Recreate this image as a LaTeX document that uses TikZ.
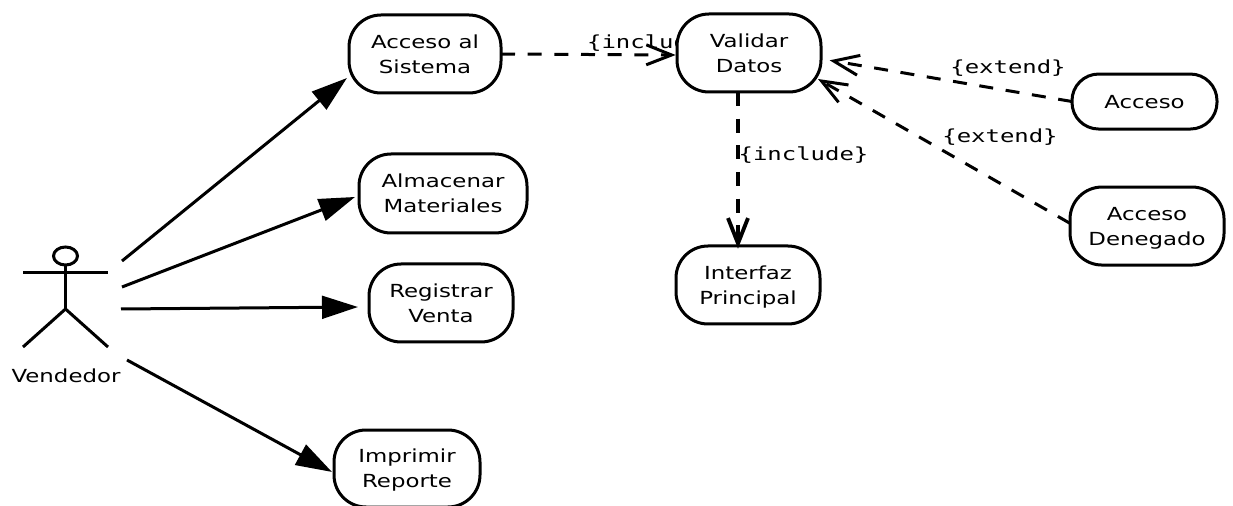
\documentclass[tikz,border=0pt]{standalone}
\usepackage{fontspec}
\setmainfont[FakeStretch=1.27]{DejaVu Sans}
\newfontfamily\labelfont[FakeStretch=1.33]{DejaVu Sans Mono}
\usetikzlibrary{positioning, arrows.meta, shapes.geometric}
\tikzset{
    caso/.style={draw, line width=2.25pt, fill=white, rounded corners=24pt, align=center, inner sep=0pt, outer sep=0pt, text depth=0pt,
        font=\fontsize{13.5}{18.75}\selectfont, minimum width=108pt, minimum height=58.5pt},
    etiqueta/.style={inner sep=0pt, font=\labelfont\fontsize{13.5}{18.75}\selectfont},
    asocia/.style={line width=2.25pt, -{Triangle[length=27pt,width=17pt]}},
    depende/.style={line width=2.25pt, dash pattern=on 10.5pt off 9.5pt, -{Straight Barb[length=19pt,width=15pt]}},
    figura/.style={line width=2.25pt}
}
\begin{document}
\begin{tikzpicture}[x=0.75pt, y=-0.75pt]
        \useasboundingbox (0,0) rectangle (1233,506);

        % actor
        \node[figura, draw, ellipse, minimum width=18pt, minimum height=13.5pt, inner sep=0pt] (cabeza) at (65.5,256) {};
        \coordinate (hombro) at (65.5,273);
        \coordinate (cadera) at (65.5,309);
        \draw[figura] (cabeza) -- (cadera);
        \draw[figura] (23,273) -- (hombro) -- (108,273);
        \draw[figura] (23,347) -- (cadera) -- (108,347);
        \node[inner sep=0pt, font=\fontsize{13.5}{18.75}\selectfont] (vendedor) at (66,376) {Vendedor};

        % casos de uso
        \node[caso, minimum width=114pt] (sistema) at (425,54) {Acceso al\\Sistema};
        \node[caso, minimum width=126pt, minimum height=59.25pt] (almacenar) [below = 45.75pt of sistema, xshift=13.5pt] {Almacenar\\Materiales};
        \node[caso] (registrar) [below = 23.25pt of almacenar, xshift=-1.5pt] {Registrar\\Venta};
        \node[caso, minimum width=109.5pt, minimum height=57.75pt] (imprimir) [below = 66pt of registrar, xshift=-25.5pt] {Imprimir\\Reporte};

        % queda tapada en parte por el caso siguiente
        \node[etiqueta] (incluye1) at (652,43) {\{include\}};

        \node[caso] (validar) [right = 132pt of sistema, yshift=0.75pt] {Validar\\Datos};
        \node[caso] (interfaz) [below = 115.5pt of validar, xshift=-0.75pt] {Interfaz\\Principal};
        \node[caso, minimum width=108.75pt, minimum height=41.25pt, rounded corners=20pt] (acceso) [right = 188.25pt of validar, yshift=-36.4pt] {Acceso};
        \node[caso, minimum width=115.5pt] (denegado) [below = 43.5pt of acceso, xshift=1.9pt] {Acceso\\Denegado};

        \node[etiqueta] (incluye2) at (803.5,155) {\{include\}};
        \node[etiqueta] (extiende1) at (1008,68) {\{extend\}};
        \node[etiqueta] (extiende2) at (1000,137) {\{extend\}};

        % extremos libres
        \coordinate (salida1) at (122,261);
        \coordinate (salida2) at (122,287);
        \coordinate (salida3) at (121,309);
        \coordinate (salida4) at (127,360);

        \draw[asocia] (salida1) -- ([xshift=-1.5pt,yshift=-18pt]sistema.west);
        \draw[asocia] (salida2) -- ([xshift=-3pt,yshift=-2.6pt]almacenar.west);
        \draw[asocia] (salida3) -- ([xshift=-8.25pt,yshift=-3pt]registrar.west);
        \draw[asocia] (salida4) -- ([xshift=-1.5pt,yshift=-2.6pt]imprimir.west);

        \draw[depende] (sistema.east) -- ([xshift=-1pt,yshift=-1.5pt]validar.west);
        \draw[depende, line width=2.9pt] ([xshift=-8.25pt]validar.south) -- ([xshift=-7.5pt,yshift=-2pt]interfaz.north);
        \draw[depende] (acceso.west) -- ([xshift=6.5pt,yshift=-5.5pt]validar.east);
        \draw[depende] ([yshift=2pt]denegado.west) -- ([xshift=-2.25pt,yshift=-19.5pt]validar.east);
    \end{tikzpicture}
\end{document}
